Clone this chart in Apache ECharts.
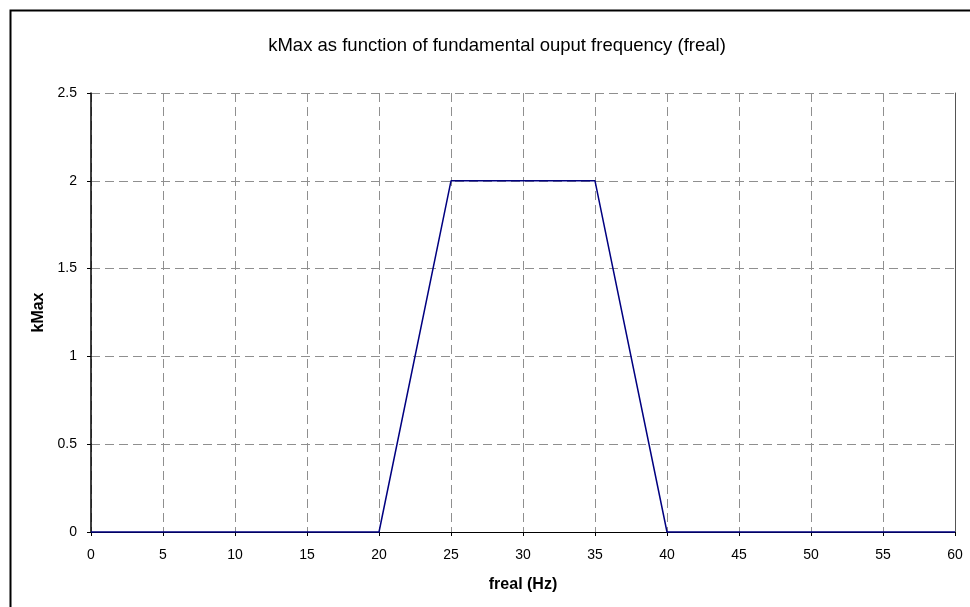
<!DOCTYPE html>
<html><head><meta charset="utf-8">
<style>html,body{margin:0;padding:0;background:#fff}#c{width:970px;height:607px}</style>
<script src="https://cdn.jsdelivr.net/npm/echarts@6/dist/echarts.min.js"></script>
</head><body><div id="c"></div>
<script>
var titleText = "kMax as function of fundamental ouput frequency (freal)";
var xName = "freal (Hz)";
var yName = "kMax";
var freq = [0, 20, 25, 35, 40, 60];
var kMax = [0, 0, 2, 2, 0, 0];

var chart = echarts.init(document.getElementById('c'), null, {renderer: 'canvas'});
var font = 'Arial, "Liberation Sans", sans-serif';
var gridDash = {color: '#8f8f8f', type: [9, 5], width: 1};
chart.setOption({
  animation: false,
  backgroundColor: '#fff',
  title: {text: titleText, left: 492, textAlign: 'center', top: 31,
    textStyle: {fontFamily: font, fontSize: 18.5, fontWeight: 'normal', color: '#000'}},
  graphic: [{type: 'rect', shape: {x: 10.5, y: 10.5, width: 1000, height: 1000},
    style: {fill: 'none', stroke: '#000', lineWidth: 2}, silent: true}],
  grid: {left: 91, right: 15, top: 93, bottom: 75, show: false},
  xAxis: {type: 'value', min: 0, max: 60, interval: 5,
    name: xName, nameLocation: 'middle', nameGap: 45,
    nameTextStyle: {fontFamily: font, fontSize: 16, fontWeight: 'bold', color: '#000'},
    axisLine: {show: true, onZero: false, lineStyle: {color: '#000', width: 1}},
    axisTick: {show: true, length: 4, inside: false, lineStyle: {color: '#000'}},
    axisLabel: {fontFamily: font, fontSize: 14, color: '#000', margin: 16},
    splitLine: {show: true, lineStyle: gridDash}},
  yAxis: [{type: 'value', min: 0, max: 2.5, interval: 0.5,
    name: yName, nameLocation: 'middle', nameGap: 41,
    nameTextStyle: {fontFamily: font, fontSize: 16, fontWeight: 'bold', color: '#000'},
    axisLine: {show: true, lineStyle: {color: '#000', width: 1.5}},
    axisTick: {show: true, length: 4, lineStyle: {color: '#000'}},
    axisLabel: {fontFamily: font, fontSize: 14, color: '#000', margin: 14},
    splitLine: {show: true, lineStyle: gridDash}},
   {type: 'value', min: 0, max: 2.5, interval: 0.5, position: 'right',
    axisLine: {show: true, lineStyle: {color: '#555', width: 1}},
    axisTick: {show: false}, axisLabel: {show: false}, splitLine: {show: false}}],
  series: [{type: 'line', data: freq.map(function(f, i){return [f, kMax[i]];}),
    symbol: 'none', lineStyle: {color: '#000080', width: 1.5}, clip: false}]
});
</script></body></html>
